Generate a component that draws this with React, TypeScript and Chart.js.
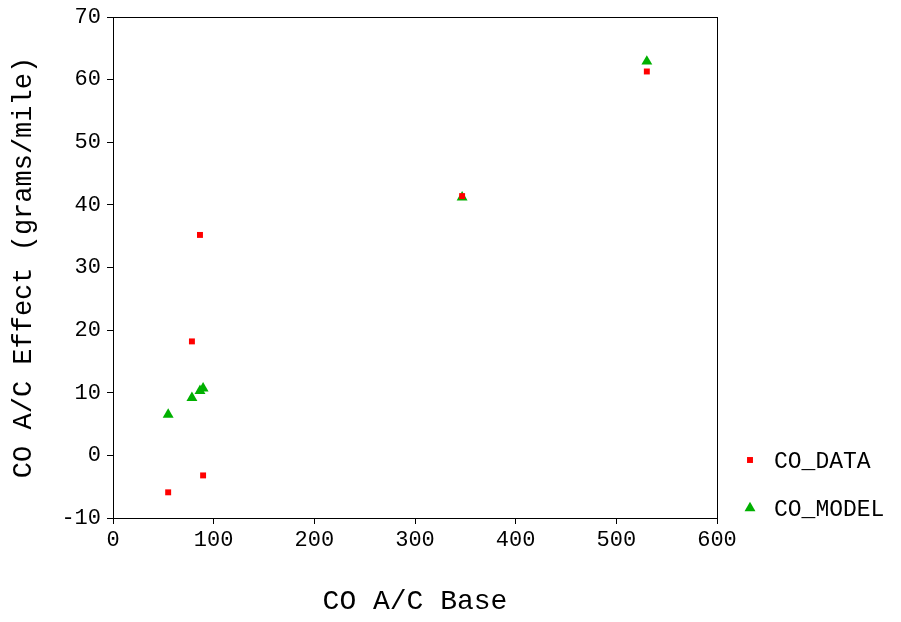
import React, { useEffect, useRef } from "react";
import { Chart, registerables } from "chart.js";

Chart.register(...registerables);

const xBase = [54.8, 78.4, 86.4, 89.5, 346.8, 530.3];
const coData = [-5.9, 18.2, 35.2, -3.2, 41.4, 61.3];
const coModel = [6.5, 9.2, 10.3, 10.7, 41.2, 62.9];
const seriesNames = ["CO_DATA", "CO_MODEL"];
const xTitle = "CO A/C Base";
const yTitle = "CO A/C Effect (grams/mile)";

const FONT = "'Liberation Mono', 'DejaVu Sans Mono', monospace";

const framePlugin = {
  id: "frame",
  afterDraw(chart: any) {
    const { ctx, chartArea } = chart;
    ctx.save();
    ctx.strokeStyle = "#000";
    ctx.lineWidth = 1;
    ctx.strokeRect(
      Math.round(chartArea.left) + 0.5,
      Math.round(chartArea.top) + 0.5,
      Math.round(chartArea.right - chartArea.left),
      Math.round(chartArea.bottom - chartArea.top)
    );
    ctx.restore();
  },
};

const legendPlugin = {
  id: "customLegend",
  afterDraw(chart: any) {
    const { ctx } = chart;
    const rows = [460, 508];
    ctx.save();
    chart.data.datasets.forEach((ds: any, i: number) => {
      const y = rows[i];
      const x = 750;
      ctx.fillStyle = ds.backgroundColor;
      ctx.beginPath();
      if (ds.pointStyle === "rect") {
        const s = ds.pointRadius * Math.SQRT1_2;
        ctx.rect(x - s, y - s, 2 * s, 2 * s);
      } else {
        const r = ds.pointRadius;
        let rad = 0;
        ctx.moveTo(x + Math.sin(rad) * r, y - Math.cos(rad) * r);
        rad += (2 * Math.PI) / 3;
        ctx.lineTo(x + Math.sin(rad) * r, y - Math.cos(rad) * r);
        rad += (2 * Math.PI) / 3;
        ctx.lineTo(x + Math.sin(rad) * r, y - Math.cos(rad) * r);
        ctx.closePath();
      }
      ctx.fill();
      ctx.fillStyle = "#000";
      ctx.font = `23px ${FONT}`;
      ctx.textAlign = "left";
      ctx.textBaseline = "middle";
      ctx.fillText(ds.label, 774, y + 2);
    });
    ctx.restore();
  },
};

export default function App() {
  const ref = useRef<HTMLCanvasElement | null>(null);
  useEffect(() => {
    document.body.style.margin = "0";
    const canvas = ref.current;
    if (!canvas) return;
    const chart = new Chart(canvas, {
      type: "scatter",
      data: {
        datasets: [
          {
            label: seriesNames[0],
            data: xBase.map((x, i) => ({ x, y: coData[i] })),
            pointStyle: "rect",
            pointRadius: 4.2,
            pointHoverRadius: 4.2,
            backgroundColor: "#ff0000",
            borderColor: "#ff0000",
            borderWidth: 0,
          },
          {
            label: seriesNames[1],
            data: xBase.map((x, i) => ({ x, y: coModel[i] })),
            pointStyle: "triangle",
            pointRadius: 6.3,
            pointHoverRadius: 6.3,
            backgroundColor: "#00b000",
            borderColor: "#00b000",
            borderWidth: 0,
          },
        ],
      },
      options: {
        animation: false,
        responsive: false,
        events: [],
        layout: { padding: { top: 16, right: 184, left: 0, bottom: 0 } },
        plugins: { legend: { display: false }, tooltip: { enabled: false } },
        scales: {
          x: {
            type: "linear",
            min: 0,
            max: 600,
            afterFit(scale: any) {
              scale.height = 104;
            },
            ticks: {
              stepSize: 100,
              color: "#000",
              padding: 3,
              font: { family: FONT, size: 22 },
            },
            grid: {
              drawOnChartArea: false,
              drawTicks: true,
              tickLength: 6,
              tickColor: "#000",
              color: "#000",
            },
            border: { display: true, color: "#000", width: 1 },
            title: {
              display: true,
              text: xTitle,
              color: "#000",
              font: { family: FONT, size: 28 },
              padding: { top: 0, bottom: 4 },
            },
          },
          y: {
            type: "linear",
            min: -10,
            max: 70,
            afterFit(scale: any) {
              scale.width = 113;
            },
            ticks: {
              stepSize: 10,
              color: "#000",
              padding: 6,
              font: { family: FONT, size: 22, lineHeight: 1 },
            },
            grid: {
              drawOnChartArea: false,
              drawTicks: true,
              tickLength: 6,
              tickColor: "#000",
              color: "#000",
            },
            border: { display: true, color: "#000", width: 1 },
            title: {
              display: true,
              text: yTitle,
              color: "#000",
              font: { family: FONT, size: 27 },
              padding: { top: 8, bottom: 0 },
            },
          },
        },
      },
      plugins: [framePlugin, legendPlugin],
    });
    return () => chart.destroy();
  }, []);
  return (
    <div style={{ width: 901, height: 622 }}>
      <canvas ref={ref} width={901} height={622} style={{ display: "block" }} />
    </div>
  );
}
